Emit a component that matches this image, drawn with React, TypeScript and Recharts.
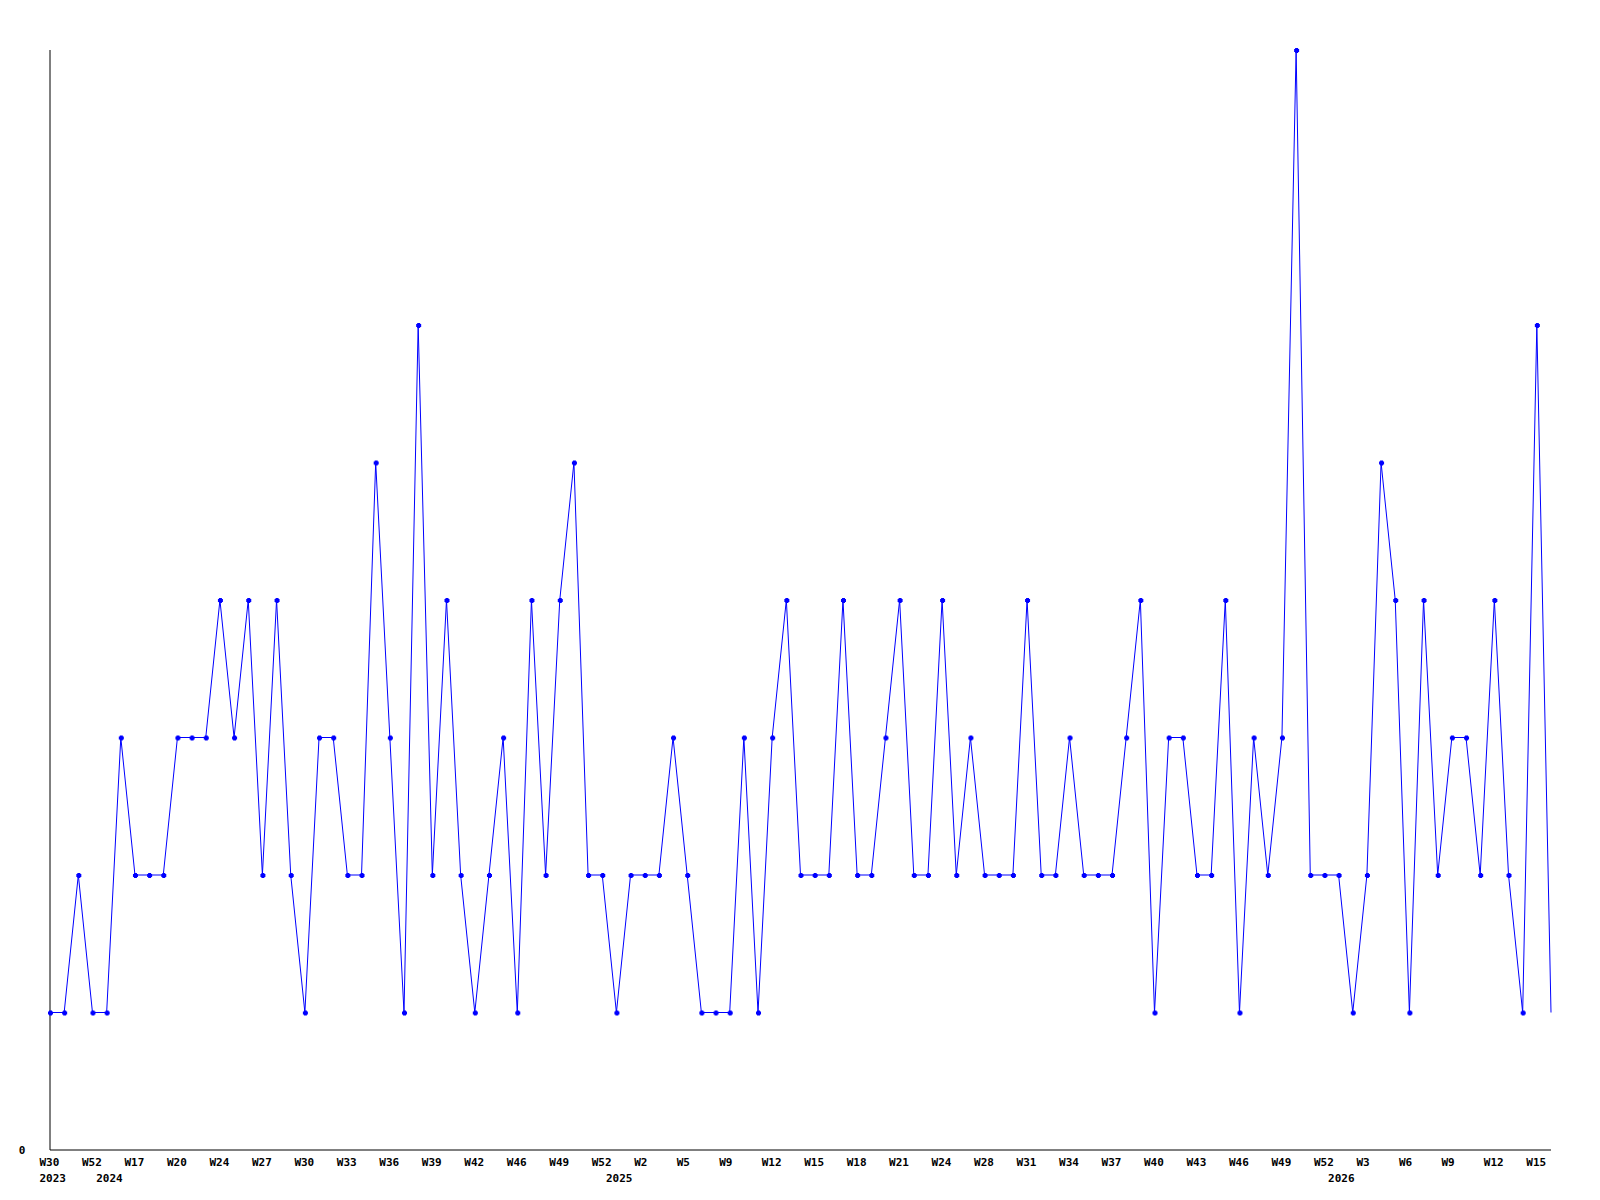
import { LineChart, Line, XAxis, YAxis } from "recharts";

// weekly counts, one per week that had activity
const counts = [
  1, 1, 2, 1, 1, 3, 2, 2, 2, 3,
  3, 3, 4, 3, 4, 2, 4, 2, 1, 3,
  3, 2, 2, 5, 3, 1, 6, 2, 4, 2,
  1, 2, 3, 1, 4, 2, 4, 5, 2, 2,
  1, 2, 2, 2, 3, 2, 1, 1, 1, 3,
  1, 3, 4, 2, 2, 2, 4, 2, 2, 3,
  4, 2, 2, 4, 2, 3, 2, 2, 2, 4,
  2, 2, 3, 2, 2, 2, 3, 4, 1, 3,
  3, 2, 2, 4, 1, 3, 2, 3, 8, 2,
  2, 2, 1, 2, 5, 4, 1, 4, 2, 3,
  3, 2, 4, 2, 1, 6, 1,
];

const weeks = [
  "W30", "W35", "W44", "W52", "W3", "W10", "W17", "W18", "W19", "W20",
  "W21", "W23", "W24", "W25", "W26", "W27", "W28", "W29", "W30", "W31",
  "W32", "W33", "W34", "W35", "W36", "W37", "W38", "W39", "W40", "W41",
  "W42", "W43", "W45", "W46", "W47", "W48", "W49", "W50", "W51", "W52",
  "W1", "W1", "W2", "W3", "W4", "W5", "W6", "W8", "W9", "W10",
  "W11", "W12", "W13", "W14", "W15", "W16", "W17", "W18", "W19", "W20",
  "W21", "W22", "W23", "W24", "W25", "W27", "W28", "W29", "W30", "W31",
  "W32", "W33", "W34", "W35", "W36", "W37", "W38", "W39", "W40", "W41",
  "W42", "W43", "W44", "W45", "W46", "W47", "W48", "W49", "W50", "W51",
  "W52", "W1", "W2", "W3", "W4", "W5", "W6", "W7", "W8", "W9",
  "W10", "W11", "W12", "W13", "W14", "W15", "W16",
];

// first point of each year gets the year printed under it
const yearStart = [0, 4, 40, 91];
const yearLabels = ["2023", "2024", "2025", "2026"];

const data = counts.map((c, i) => ({ id: i, count: c }));

const font = {
  fontFamily: "'DejaVu Sans Mono', monospace",
  fontWeight: "bold" as const,
  fontSize: 11,
  fill: "#000",
};

function WeekTick(props: any) {
  const { x, y, payload } = props;
  const i = payload.index ?? props.index;
  const yi = yearStart.indexOf(i);
  return (
    <g>
      {i % 3 === 0 && (
        <text x={x - 10.5} y={y + 16} textAnchor="start" {...font}>
          {weeks[i]}
        </text>
      )}
      {yi >= 0 && (
        <text x={x - 10.5} y={y + 32} textAnchor="start" {...font}>
          {yearLabels[yi]}
        </text>
      )}
    </g>
  );
}

function ZeroTick(props: any) {
  const { x, y, payload } = props;
  return (
    <text x={x - 28} y={y + 3.5} textAnchor="middle" {...font}>
      {payload.value}
    </text>
  );
}

function Marker(props: any) {
  const { cx, cy, index } = props;
  if (index === counts.length - 1) return <g key={index} />;
  return (
    <g key={index} fill="#0000ff">
      <rect x={cx - 2} y={cy - 1} width={5} height={3} />
      <rect x={cx - 1} y={cy - 2} width={3} height={5} />
    </g>
  );
}

export default function App() {
  return (
    <div style={{ position: "absolute", left: 0, top: 0, background: "#fff" }}>
      <LineChart
        width={1600}
        height={1200}
        data={data}
        margin={{ top: 50, right: 49, bottom: 0, left: 0 }}
      >
        <XAxis
          dataKey="id"
          type="category"
          scale="point"
          interval={0}
          height={50}
          padding={{ left: 0, right: 0 }}
          tickLine={false}
          tickSize={0}
          tickMargin={0}
          tick={<WeekTick />}
          axisLine={{ stroke: "#000", strokeWidth: 1 }}
        />
        <YAxis
          width={50}
          domain={[0, 8]}
          ticks={[0]}
          tickLine={false}
          tickSize={0}
          tickMargin={0}
          tick={<ZeroTick />}
          axisLine={{ stroke: "#000", strokeWidth: 1 }}
        />
        <Line
          type="linear"
          dataKey="count"
          stroke="#0000ff"
          strokeWidth={1}
          dot={<Marker />}
          activeDot={false}
          isAnimationActive={false}
        />
      </LineChart>
    </div>
  );
}
